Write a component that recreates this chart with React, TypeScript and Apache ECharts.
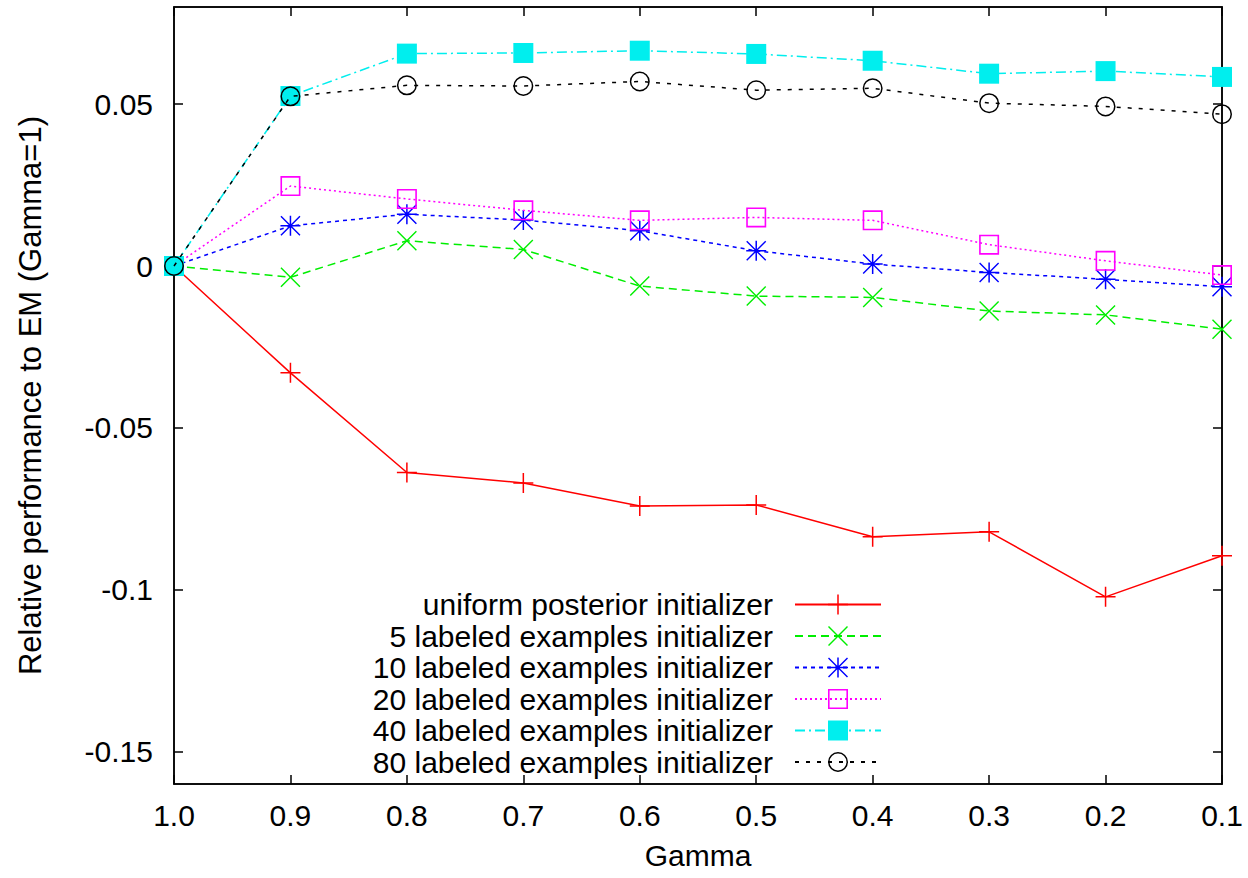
import React, { useEffect, useRef } from "react";
import * as echarts from "echarts";

const gammaLabels = ["1.0", "0.9", "0.8", "0.7", "0.6", "0.5", "0.4", "0.3", "0.2", "0.1"];
const yTickValues = [-0.15, -0.1, -0.05, 0, 0.05];

const uniformPosterior = [0, -0.033, -0.0638, -0.067, -0.0741, -0.0738, -0.0836, -0.0821, -0.1022, -0.0895];
const labeled5 = [0, -0.0035, 0.0078, 0.0051, -0.0062, -0.0093, -0.0097, -0.0139, -0.0151, -0.0195];
const labeled10 = [0, 0.0124, 0.016, 0.0142, 0.0109, 0.0047, 0.0006, -0.002, -0.0041, -0.0064];
const labeled20 = [0, 0.0247, 0.0207, 0.0172, 0.0141, 0.015, 0.0141, 0.0066, 0.0016, -0.0028];
const labeled40 = [0, 0.0525, 0.0656, 0.0658, 0.0665, 0.0655, 0.0634, 0.0594, 0.0602, 0.0584];
const labeled80 = [0, 0.0524, 0.0558, 0.0556, 0.057, 0.0543, 0.0549, 0.0503, 0.0493, 0.0469];

const seriesNames = [
  "uniform posterior initializer",
  "5 labeled examples initializer",
  "10 labeled examples initializer",
  "20 labeled examples initializer",
  "40 labeled examples initializer",
  "80 labeled examples initializer",
];

const PLUS = "path://M0,9.25 L9.25,9.25 L9.25,0 L10.75,0 L10.75,9.25 L20,9.25 L20,10.75 L10.75,10.75 L10.75,20 L9.25,20 L9.25,10.75 L0,10.75 Z";
const CROSS =
  "path://M0,1 L1,0 L10,9 L19,0 L20,1 L11,10 L20,19 L19,20 L10,11 L1,20 L0,19 L9,10 Z";
const STAR =
  "path://M0,1 L1,0 L10,9 L19,0 L20,1 L11,10 L20,19 L19,20 L10,11 L1,20 L0,19 L9,10 Z M0,9.25 L20,9.25 L20,10.75 L0,10.75 Z M9.25,0 L10.75,0 L10.75,20 L9.25,20 Z";
const HOLLOW_SQ = "path://M0,0 L20,0 L20,20 L0,20 Z M1.6,1.6 L1.6,18.4 L18.4,18.4 L18.4,1.6 Z";
const FILLED_SQ = "path://M0,0 L20,0 L20,20 L0,20 Z";
const RING =
  "path://M10,0 A10,10 0 1,1 10,20 A10,10 0 1,1 10,0 Z M10,1.5 A8.5,8.5 0 1,0 10,18.5 A8.5,8.5 0 1,0 10,1.5 Z";

const FONT = "Liberation Sans";

export default function App() {
  const ref = useRef<HTMLDivElement>(null);

  useEffect(() => {
    if (!ref.current) return;
    const chart = echarts.init(ref.current, null, { renderer: "svg" });

    const defs = [
      { data: uniformPosterior, color: "#ff0000", dash: "solid" as any, symbol: PLUS },
      { data: labeled5, color: "#00ee00", dash: [8, 5], symbol: CROSS },
      { data: labeled10, color: "#0000ff", dash: [4, 4], symbol: STAR },
      { data: labeled20, color: "#ff00ff", dash: [2, 3], symbol: HOLLOW_SQ },
      { data: labeled40, color: "#00eeee", dash: [10, 4, 2, 4], symbol: FILLED_SQ },
      { data: labeled80, color: "#000000", dash: [4, 7], symbol: RING },
    ];

    const series = defs.map((d, i) => ({
      name: seriesNames[i],
      type: "line",
      data: d.data,
      symbol: d.symbol,
      symbolSize: 20,
      showAllSymbol: true,
      itemStyle: { color: d.color },
      lineStyle: { color: d.color, width: 1.5, type: d.dash },
      z: 2 + i,
    }));

    const rowCenters = [602, 633.5, 665, 696.5, 728, 759.5];
    const legends = seriesNames.map((n, i) => ({
      data: [n],
      orient: "vertical",
      align: "right",
      right: 366,
      top: rowCenters[i] - 12.5,
      itemWidth: 86,
      itemHeight: 25,
      padding: 0,
      selectedMode: false,
      textStyle: {
        fontFamily: FONT,
        fontSize: 30,
        lineHeight: 29,
        color: "#000",
        padding: [0, 17, 0, 0],
      },
    }));

    const tickStyle = { color: "#000", width: 1.5 };
    const axisLineStyle = { color: "#000", width: 1.5 };

    chart.setOption({
      animation: false,
      backgroundColor: "#fff",
      grid: {
        left: 174,
        right: 26,
        top: 7,
        bottom: 94,
        show: true,
        borderColor: "#000",
        borderWidth: 1.5,
        containLabel: false,
      },
      legend: legends,
      xAxis: [
        {
          type: "category",
          data: gammaLabels,
          boundaryGap: false,
          position: "bottom",
          name: "Gamma",
          nameLocation: "middle",
          nameGap: 56,
          nameTextStyle: { fontFamily: FONT, fontSize: 30, color: "#000" },
          axisLine: { onZero: false, lineStyle: axisLineStyle },
          axisTick: { inside: true, length: 9, alignWithLabel: true, lineStyle: tickStyle },
          axisLabel: { fontFamily: FONT, fontSize: 30, color: "#000", margin: 16 },
          splitLine: { show: false },
        },
        {
          type: "category",
          data: gammaLabels,
          boundaryGap: false,
          position: "top",
          axisLine: { onZero: false, lineStyle: axisLineStyle },
          axisTick: { inside: true, length: 9, lineStyle: tickStyle },
          axisLabel: { show: false },
          splitLine: { show: false },
        },
      ],
      yAxis: [
        {
          type: "value",
          min: -0.16,
          max: 0.08,
          position: "left",
          name: "Relative performance to EM (Gamma=1)",
          nameLocation: "middle",
          nameGap: 128,
          nameTextStyle: { fontFamily: FONT, fontSize: 31, color: "#000" },
          axisLine: { show: true, onZero: false, lineStyle: axisLineStyle },
          axisTick: { show: true, inside: true, length: 9, customValues: yTickValues, lineStyle: tickStyle },
          axisLabel: { fontFamily: FONT, fontSize: 30, color: "#000", margin: 21, customValues: yTickValues },
          splitLine: { show: false },
        },
        {
          type: "value",
          min: -0.16,
          max: 0.08,
          position: "right",
          axisLine: { show: true, onZero: false, lineStyle: axisLineStyle },
          axisTick: { show: true, inside: true, length: 9, customValues: yTickValues, lineStyle: tickStyle },
          axisLabel: { show: false },
          splitLine: { show: false },
        },
      ],
      series,
    });

    return () => chart.dispose();
  }, []);

  return (
    <div
      ref={ref}
      style={{ position: "absolute", left: 0, top: 0, width: 1248, height: 878 }}
    />
  );
}
